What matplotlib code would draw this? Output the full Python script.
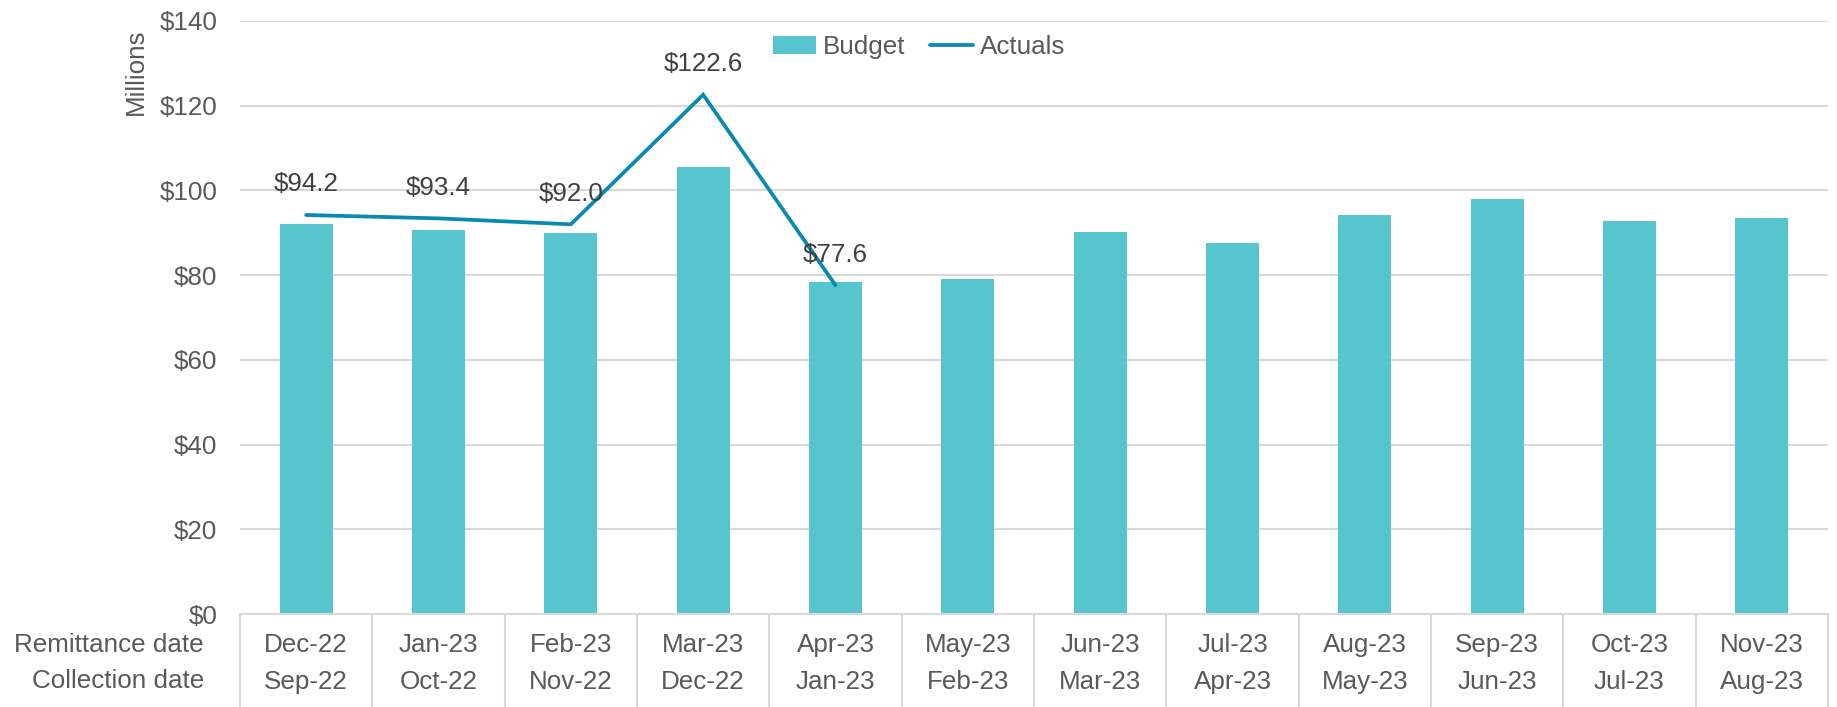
import matplotlib.pyplot as plt
import numpy as np

plt.rcParams['font.family'] = ['Liberation Sans', 'DejaVu Sans']

remittance = ['Dec-22', 'Jan-23', 'Feb-23', 'Mar-23', 'Apr-23', 'May-23',
              'Jun-23', 'Jul-23', 'Aug-23', 'Sep-23', 'Oct-23', 'Nov-23']
collection = ['Sep-22', 'Oct-22', 'Nov-22', 'Dec-22', 'Jan-23', 'Feb-23',
              'Mar-23', 'Apr-23', 'May-23', 'Jun-23', 'Jul-23', 'Aug-23']
budget = [92.1, 90.6, 89.9, 105.5, 78.4, 79.0, 90.2, 87.7, 94.3, 97.9, 92.9, 93.4]
actuals = [94.2, 93.4, 92.0, 122.6, 77.6]

bar_color = '#56C5CE'
line_color = '#0A8AB0'
grid_color = '#D9D9D9'
tick_color = '#595959'
label_color = '#404040'
fs = 18.7

fig = plt.figure(figsize=(18.37, 7.07), dpi=100)
ax = fig.add_axes([240/1837, 93/707, 1588/1837, 593/707])

x = np.arange(len(remittance))
bars = ax.bar(x, budget, width=0.40, color=bar_color, label='Budget', zorder=2)
line, = ax.plot(x[:len(actuals)], actuals, color=line_color, lw=2.7,
                solid_capstyle='round', solid_joinstyle='miter', label='Actuals', zorder=3)

for xi, v in zip(x, actuals):
    ax.annotate(f'${v:.1f}', (xi, v), xytext=(0, 22), textcoords='offset points',
                ha='center', va='center', fontsize=fs, color=label_color, zorder=4)

ax.set_xlim(-0.5, len(remittance) - 0.5)
ax.set_ylim(0, 140)
ax.set_yticks(np.arange(0, 141, 20))
ax.set_yticklabels([f'${v}' for v in range(0, 141, 20)])
ax.tick_params(axis='y', length=0, pad=16.5, labelsize=fs, labelcolor=tick_color)
ax.set_xticks([])
ax.grid(axis='y', color=grid_color, lw=1.5, zorder=0)
for s in ['top', 'right', 'left']:
    ax.spines[s].set_visible(False)
ax.spines['bottom'].set_color(grid_color)
ax.spines['bottom'].set_linewidth(1.5)

# table under the axis
xt = ax.get_xaxis_transform()
ax.vlines(np.arange(-0.5, len(remittance)), 0, -0.16, transform=xt,
          color=grid_color, lw=1.5, clip_on=False)
for i in x:
    ax.text(i, -0.053, remittance[i], transform=xt, ha='center', va='center',
            fontsize=fs, color=tick_color)
    ax.text(i, -0.114, collection[i], transform=xt, ha='center', va='center',
            fontsize=fs, color=tick_color)
fig.text(204/1837, 1 - 645/707, 'Remittance date', ha='right', va='center',
         fontsize=fs, color=tick_color)
fig.text(204/1837, 1 - 681/707, 'Collection date', ha='right', va='center',
         fontsize=fs, color=tick_color)

fig.text(136/1837, 1 - 72/707, 'Millions', rotation=90, ha='center', va='center',
         fontsize=fs, color=tick_color)

leg = ax.legend(handles=[bars, line], loc='center', bbox_to_anchor=(0.4276, 0.956),
                ncol=2, frameon=False, fontsize=fs, handlelength=1.67,
                handletextpad=0.27, columnspacing=0.93, borderpad=0)
for t in leg.get_texts():
    t.set_color(tick_color)

fig.savefig('out.png', dpi=100)
